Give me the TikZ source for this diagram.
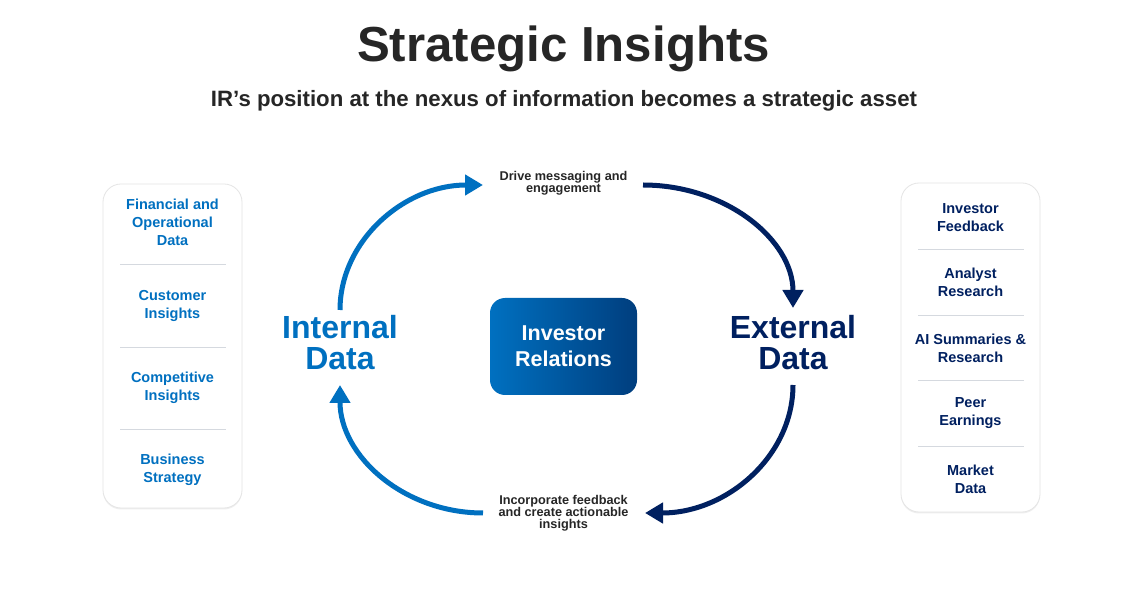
\documentclass[tikz,border=0pt]{standalone}
\usepackage{fontspec}
\setmainfont{Liberation Sans}
\usetikzlibrary{arrows.meta,shadows}
\definecolor{irblue}{HTML}{0070C0}
\definecolor{irnavy}{HTML}{002060}
\definecolor{irdark}{HTML}{262626}
\definecolor{irgrad}{HTML}{003E7E}
\definecolor{irline}{HTML}{D5D9DF}
\begin{document}
\begin{tikzpicture}[x=1pt,y=-1pt,
  panel/.style={draw=black!10,fill=white,rounded corners=18pt,line width=0.8pt,
    drop shadow={opacity=0.12,shadow xshift=0pt,shadow yshift=-1.5pt}},
  itemL/.style={font=\bfseries\fontsize{14.5}{18}\selectfont,text=irblue,align=center},
  itemR/.style={font=\bfseries\fontsize{14.5}{18}\selectfont,text=irnavy,align=center},
  divider/.style={draw=irline,line width=0.9pt},
  bigL/.style={font=\bfseries\fontsize{32}{31}\selectfont,align=center},
  cyclab/.style={font=\bfseries\fontsize{12.7}{12}\selectfont,text=irdark,align=center},
  cycL/.style={draw=irblue,line width=5pt,-{Triangle[length=18pt,width=20pt]}},
  cycR/.style={draw=irnavy,line width=5pt,-{Triangle[length=18pt,width=20pt]}}]
\useasboundingbox (0,0) rectangle (1136,601);
\fill[white] (0,0) rectangle (1136,601);

% titles
\node[font=\bfseries\fontsize{49.2}{54}\selectfont,text=irdark] (title) at (563.5,49) {Strategic Insights};
\node[font=\bfseries\fontsize{22.2}{25}\selectfont,text=irdark] (subtitle) at (564,100.5) {IR’s position at the nexus of information becomes a strategic asset};

% left panel
\path[panel] (103,184) rectangle (242,508);
\node[itemL] (l1) at (172.5,222.5) {Financial and\\Operational\\Data};
\node[itemL] (l2) at (172.5,306) {Customer\\Insights};
\node[itemL] (l3) at (172.5,388) {Competitive\\Insights};
\node[itemL] (l4) at (172.5,470) {Business\\Strategy};
\draw[divider] (120,264) -- (226,264);
\draw[divider] (120,347) -- (226,347);
\draw[divider] (120,429) -- (226,429);

% right panel
\path[panel] (901,183) rectangle (1040,512);
\node[itemR] (r1) at (970.5,217.5) {Investor\\Feedback};
\node[itemR] (r2) at (970.5,282) {Analyst\\Research};
\node[itemR] (r3) at (970.5,348) {AI Summaries \&\\Research};
\node[itemR] (r4) at (970.5,413) {Peer\\Earnings};
\node[itemR] (r5) at (970.5,479) {Market\\Data};
\draw[divider] (918,249) -- (1024,249);
\draw[divider] (918,315) -- (1024,315);
\draw[divider] (918,380) -- (1024,380);
\draw[divider] (918,446) -- (1024,446);

% center box
\node[rounded corners=15pt,left color=irblue,right color=irgrad,minimum width=147pt,minimum height=97pt,
  text=white,font=\bfseries\fontsize{21.5}{26}\selectfont,align=center] (ir) at (563.5,346.5) {Investor\\Relations};

% side labels
\node[bigL,text=irblue] (internal) at (340,343) {Internal\\Data};
\node[bigL,text=irnavy] (external) at (793,343) {External\\Data};

% cycle labels
\node[cyclab] (drive) at (563.5,183.5) {Drive messaging and\\engagement};
\node[cyclab] (incorp) at (563.5,513) {Incorporate feedback\\and create actionable\\insights};

% arrow endpoints
\coordinate (a1s) at (340,310);
\coordinate (a1e) at (483,185);
\coordinate (a2s) at (643,185);
\coordinate (a2e) at (793,308);
\coordinate (a3s) at (793,385);
\coordinate (a3e) at (645,513);
\coordinate (a4s) at (483,513);
\coordinate (a4e) at (340,385);

\draw[cycL] (a1s) .. controls (340,241) and (404,185) .. (a1e);
\draw[cycR] (a2s) .. controls (726,185) and (793,240) .. (a2e);
\draw[cycR] (a3s) .. controls (793,456) and (727,513) .. (a3e);
\draw[cycL] (a4s) .. controls (404,513) and (340,456) .. (a4e);
\end{tikzpicture}
\end{document}
